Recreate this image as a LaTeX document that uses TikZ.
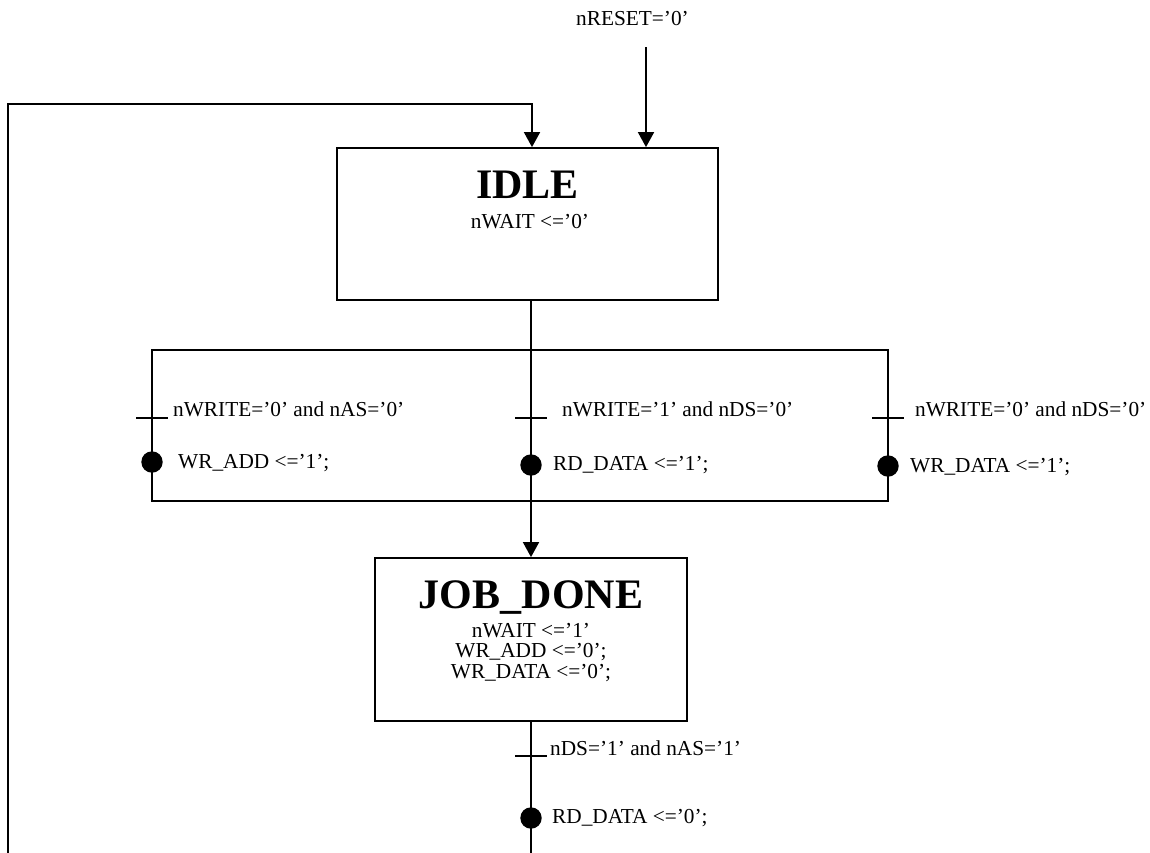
\documentclass[tikz,border=0pt]{standalone}
\usepackage{fontspec}
\setmainfont{Liberation Serif}
\usetikzlibrary{arrows.meta}
\begin{document}
\begin{tikzpicture}[x=1pt,y=-1pt,
  line/.style={line width=1.8pt},
  arr/.style={line width=1.8pt,-{Triangle[width=16pt,length=15pt]}},
  statebox/.style={draw,line width=1.8pt,inner sep=0pt},
  lbl/.style={inner sep=0pt,anchor=base west,font=\fontsize{21.3}{24}\selectfont},
  ctxt/.style={inner sep=0pt,anchor=base,font=\fontsize{21.3}{24}\selectfont},
  title/.style={inner sep=0pt,anchor=base,font=\fontsize{42}{48}\selectfont\bfseries},
  tickmark/.style={line width=1.8pt},
  dotmark/.style={fill=black}]
\useasboundingbox (0,0) rectangle (1150,852);
% state boxes
\node[statebox,minimum width=381pt,minimum height=152pt] (idle) at (527.5,224) {};
\node[statebox,minimum width=312pt,minimum height=163pt] (jd) at (531,639.5) {};
% texts in boxes
\node[title] (idlet) at (527.5,198) {IDLE};
\node[ctxt] (idlew) at (530,228) {nWAIT <=’0’};
\node[title] (jdt) at (531,608) {JOB\_DONE};
\node[ctxt] (jdw) at (531,637) {nWAIT <=’1’};
\node[ctxt] (jda) at (531,657) {WR\_ADD <=’0’;};
\node[ctxt] (jdd) at (531,678) {WR\_DATA <=’0’;};
% reset
\node[lbl] (rstl) at (576,25) {nRESET=’0’};
\coordinate (rst) at (646,47);
\draw[arr] (rst) -- (rst |- idle.north);
% loop back
\coordinate (lb) at (8,853);
\coordinate (lt) at (8,104);
\coordinate (lr) at (532,104);
\draw[arr] (lb) -- (lt) -- (lr) -- (lr |- idle.north);
% fork
\coordinate (mx) at (531,300);
\coordinate (ftl) at (152,350);
\coordinate (fbr) at (888,501);
\draw[line] (ftl) rectangle (fbr);
\draw[arr] (idle.south -| mx) -- (jd.north);
% ticks and dots
\draw[tickmark] (136,418) -- (168,418);
\draw[tickmark] (515,418) -- (547,418);
\draw[tickmark] (872,418) -- (904,418);
\fill[dotmark] (152,462) circle (10.7);
\fill[dotmark] (531,465) circle (10.7);
\fill[dotmark] (888,466) circle (10.7);
% labels
\node[lbl] (c1) at (173,416) {nWRITE=’0’ and nAS=’0’};
\node[lbl] (a1) at (178,468) {WR\_ADD <=’1’;};
\node[lbl] (c2) at (562,416) {nWRITE=’1’ and nDS=’0’};
\node[lbl] (a2) at (553,470) {RD\_DATA <=’1’;};
\node[lbl] (c3) at (915,416) {nWRITE=’0’ and nDS=’0’};
\node[lbl] (a3) at (910,472) {WR\_DATA <=’1’;};
% bottom
\coordinate (bb) at (531,853);
\draw[line] (jd.south) -- (bb);
\draw[tickmark] (515,756) -- (547,756);
\fill[dotmark] (531,818) circle (10.7);
\node[lbl] (c4) at (550,755) {nDS=’1’ and nAS=’1’};
\node[lbl] (a4) at (552,823) {RD\_DATA <=’0’;};
\end{tikzpicture}
\end{document}
